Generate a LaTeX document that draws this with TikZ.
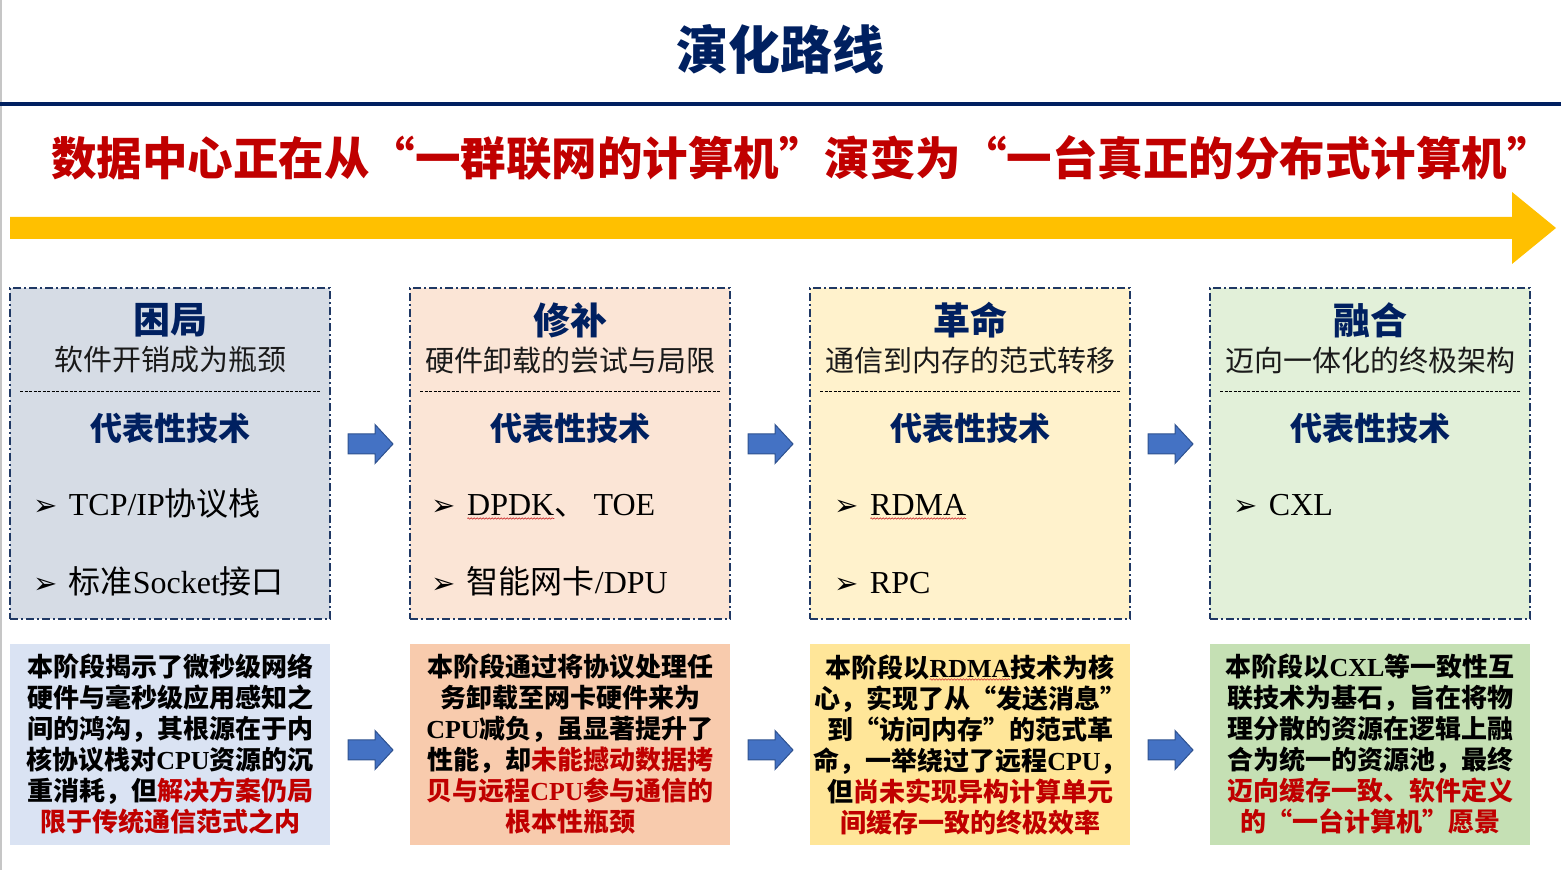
\documentclass[tikz,border=0pt]{standalone}
\usepackage{fontspec}
\setmainfont{Noto Sans CJK SC}[RawFeature={+fwid}]
\newfontfamily\tnr{Liberation Serif}
\newfontfamily\dingbat{DejaVu Sans}
\usepackage{tikz}
\usetikzlibrary{calc,positioning}
\usetikzlibrary{decorations.pathmorphing}
\definecolor{ev-navy}{HTML}{002060}
\definecolor{ev-border}{HTML}{1F3864}
\definecolor{ev-red}{HTML}{C00000}
\definecolor{ev-gold}{HTML}{FFC000}
\definecolor{ev-blue}{HTML}{4472C4}
\definecolor{ev-blueline}{HTML}{2F528F}
\definecolor{ev-text}{HTML}{1A1A1A}
\definecolor{ev-p1}{HTML}{D6DCE5}
\definecolor{ev-p2}{HTML}{FBE5D6}
\definecolor{ev-p3}{HTML}{FFF2CC}
\definecolor{ev-p4}{HTML}{E2F0D9}
\definecolor{ev-b1}{HTML}{DAE3F3}
\definecolor{ev-b2}{HTML}{F8CBAD}
\definecolor{ev-b3}{HTML}{FFE699}
\definecolor{ev-b4}{HTML}{C5E0B4}
\newcommand{\fsz}[2]{\fontsize{#1}{#2}\selectfont}
% red wavy spell-check line under a word
\newcommand{\spellwave}[1]{\tikz[baseline=(sw.base)]{\node[shape=rectangle, inner sep=0pt, outer sep=0pt, minimum width=0pt, minimum height=0pt, draw=none, fill=none] (sw) {#1};
  \draw[ev-red!80, fill=none, line width=0.6pt, decorate, decoration={snake, amplitude=0.7pt, segment length=3pt}]
    ([yshift=-2.5pt]sw.base west) -- ([yshift=-2.5pt]sw.base east);}}
\tikzset{blk/.pic={\draw[ev-blueline, fill=ev-blue, line width=1pt]
  (0,-10) -- (27,-10) -- (27,-19.5) -- (45,0) -- (27,19.5) -- (27,10) -- (0,10) -- cycle;}}

\begin{document}
\begin{tikzpicture}[x=1pt, y=1pt, >=latex]

  % Styles for the stage panels
  \tikzset{
    panel/.style={draw=ev-border, line width=1.8pt, dash pattern=on 8pt off 3pt on 2pt off 3pt, minimum width=320pt, minimum height=331pt, inner sep=0pt, outer sep=0pt},
    note/.style={minimum width=320pt, minimum height=201pt, inner sep=0pt, outer sep=0pt, align=center, text=black, font=\fsz{26}{31}\bfseries},
    head/.style={text=ev-navy, font=\fsz{37}{40}\bfseries, inner sep=0pt},
    subhead/.style={text=ev-text, font=\fsz{29}{32}, inner sep=0pt},
    tech/.style={text=ev-navy, font=\fsz{32}{36}\bfseries, inner sep=0pt},
    sepline/.style={black, line width=0.9pt, dash pattern=on 3pt off 1.5pt},
    bullet/.style={anchor=base west, inner sep=0pt, font=\dingbat\fsz{29}{30}},
    item/.style={inner sep=0pt, text=black, font=\fsz{32}{36}}
  }

  \useasboundingbox (0,0) rectangle (1561,870);
  \draw[gray!45, line width=1.5pt] (0.75,0) -- (0.75,870);

  % Title and banner
  \node (title) [text=ev-navy, font=\fsz{52}{60}\bfseries] at (780,821) {演化路线};
  \draw[ev-navy, line width=4pt] (0,766) -- (1561,766);
  \node (motto) [text=ev-red, font=\fsz{45.5}{50}\bfseries] at (802,712) {数据中心正在从“一群联网的计算机”演变为“一台真正的分布式计算机”};
  \fill[ev-gold] (10,653) -- (1512,653) -- (1512,678) -- (1556,642) -- (1512,606) -- (1512,631) -- (10,631) -- cycle;

  % Stage panels
  \node (p1) [panel, fill=ev-p1] at (170,416.5) {};
  \node (p2) [panel, fill=ev-p2, right=80pt of p1] {};
  \node (p3) [panel, fill=ev-p3, right=80pt of p2] {};
  \node (p4) [panel, fill=ev-p4, right=80pt of p3] {};

  % Stage 1
  \node (h1) [head] at ($(p1.north)+(0,-32)$) {困局};
  \node (s1) [subhead] at ($(p1.north)+(0,-72)$) {软件开销成为瓶颈};
  \draw[sepline] ($(p1.north west)+(10,-103)$) -- ($(p1.north east)+(-10,-103)$);
  \node (t1) [tech] at ($(p1.north)+(0,-140)$) {代表性技术};
  \node (a11) [bullet] at ($(p1.north west)+(23,-228)$) {➢};
  \node (b11) [item, base right=11pt of a11] {{\tnr TCP/IP}协议栈};
  \node (a12) [bullet] at ($(p1.north west)+(23,-306)$) {➢};
  \node (b12) [item, base right=11pt of a12] {标准{\tnr Socket}接口};

  % Stage 2
  \node (h2) [head] at ($(p2.north)+(0,-32)$) {修补};
  \node (s2) [subhead] at ($(p2.north)+(0,-72)$) {硬件卸载的尝试与局限};
  \draw[sepline] ($(p2.north west)+(10,-103)$) -- ($(p2.north east)+(-10,-103)$);
  \node (t2) [tech] at ($(p2.north)+(0,-140)$) {代表性技术};
  \node (a21) [bullet] at ($(p2.north west)+(21,-228)$) {➢};
  \node (b21) [item, base right=11pt of a21] {\spellwave{\tnr DPDK}、\hspace{7pt}{\tnr TOE}};
  \node (a22) [bullet] at ($(p2.north west)+(21,-306)$) {➢};
  \node (b22) [item, base right=11pt of a22] {智能网卡{\tnr /DPU}};

  % Stage 3
  \node (h3) [head] at ($(p3.north)+(0,-32)$) {革命};
  \node (s3) [subhead] at ($(p3.north)+(0,-72)$) {通信到内存的范式转移};
  \draw[sepline] ($(p3.north west)+(10,-103)$) -- ($(p3.north east)+(-10,-103)$);
  \node (t3) [tech] at ($(p3.north)+(0,-140)$) {代表性技术};
  \node (a31) [bullet] at ($(p3.north west)+(24,-228)$) {➢};
  \node (b31) [item, base right=11pt of a31] {\spellwave{\tnr RDMA}};
  \node (a32) [bullet] at ($(p3.north west)+(24,-306)$) {➢};
  \node (b32) [item, base right=11pt of a32] {{\tnr RPC}};

  % Stage 4
  \node (h4) [head] at ($(p4.north)+(0,-32)$) {融合};
  \node (s4) [subhead] at ($(p4.north)+(0,-72)$) {迈向一体化的终极架构};
  \draw[sepline] ($(p4.north west)+(10,-103)$) -- ($(p4.north east)+(-10,-103)$);
  \node (t4) [tech] at ($(p4.north)+(0,-140)$) {代表性技术};
  \node (a41) [bullet] at ($(p4.north west)+(23,-228)$) {➢};
  \node (b41) [item, base right=11pt of a41] {{\tnr CXL}};

  % Summary notes under each stage
  \node (n1) [note, fill=ev-b1] at (170,125.5) {本阶段揭示了微秒级网络\\硬件与毫秒级应用感知之\\间的鸿沟，其根源在于内\\核协议栈对{\tnr CPU}资源的沉\\重消耗，但{\color{ev-red}解决方案仍局}\\{\color{ev-red}限于传统通信范式之内}};
  \node (n2) [note, fill=ev-b2, right=80pt of n1] {本阶段通过将协议处理任\\务卸载至网卡硬件来为\\{\tnr CPU}减负，虽显著提升了\\性能，却{\color{ev-red}未能撼动数据拷}\\{\color{ev-red}贝与远程{\tnr CPU}参与通信的}\\{\color{ev-red}根本性瓶颈}};
  \node (n3) [note, fill=ev-b3, right=80pt of n2] {本阶段以\spellwave{\tnr RDMA}技术为核\\心，实现了从“发送消息”\\到“访问内存”的范式革\\命，一举绕过了远程{\tnr CPU}，\\但{\color{ev-red}尚未实现异构计算单元}\\{\color{ev-red}间缓存一致的终极效率}};
  \node (n4) [note, fill=ev-b4, right=80pt of n3] {本阶段以{\tnr CXL}等一致性互\\联技术为基石，旨在将物\\理分散的资源在逻辑上融\\合为统一的资源池，最终\\{\color{ev-red}迈向缓存一致、软件定义}\\{\color{ev-red}的“一台计算机”愿景}};

  % Block arrows between stages
  \pic (ar1) at ($(p1.east)+(18,9.5)$) {blk};
  \pic (ar2) at ($(p2.east)+(18,9.5)$) {blk};
  \pic (ar3) at ($(p3.east)+(18,9.5)$) {blk};
  \pic (ar4) at ($(n1.east)+(18,-5.5)$) {blk};
  \pic (ar5) at ($(n2.east)+(18,-5.5)$) {blk};
  \pic (ar6) at ($(n3.east)+(18,-5.5)$) {blk};

\end{tikzpicture}
\end{document}
